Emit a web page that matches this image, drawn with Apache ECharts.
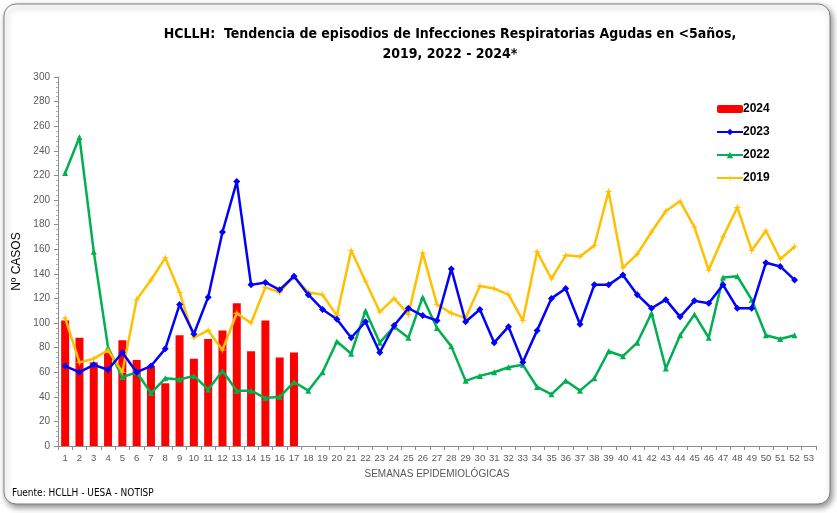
<!DOCTYPE html>
<html>
<head>
<meta charset="utf-8">
<script src="https://cdn.jsdelivr.net/npm/echarts@6/dist/echarts.min.js"></script>
<style>
  html, body { margin: 0; padding: 0; background: #ffffff; }
  #main { width: 837px; height: 513px; }
</style>
</head>
<body>
<div id="main"></div>
<script>
// semanas epidemiologicas 1..53
var semanas = [];
for (var i = 1; i <= 53; i++) semanas.push(String(i));

var casos2024 = [102, 88, 68, 76, 86, 70, 65, 51, 90, 71, 87, 94, 116, 77, 102, 72, 76];
var casos2023 = [65, 60, 66, 62, 76, 60, 65, 79, 115, 91, 121, 174, 215, 131, 133, 127, 138, 123,
  111, 103, 88, 101, 76, 98, 112, 106, 102, 144, 101, 111, 84, 97, 68, 94, 120, 128,
  99, 131, 131, 139, 123, 112, 119, 105, 118, 116, 131, 112, 112, 149, 146, 135];
var casos2022 = [222, 251, 158, 80, 56, 60, 43, 55, 54, 57, 46, 61, 45, 45, 39, 40, 52, 45,
  60, 85, 75, 110, 84, 97, 88, 121, 96, 81, 53, 57, 60, 64, 66, 48, 42, 53,
  45, 55, 77, 73, 84, 108, 63, 90, 107, 88, 137, 138, 119, 90, 87, 90];
var casos2019 = [104, 68, 71, 78, 60, 119, 135, 153, 125, 88, 94, 78, 108, 100, 129, 125, 138, 125,
  123, 106, 159, 134, 109, 120, 107, 157, 115, 108, 104, 130, 128, 123, 102, 158, 136, 155,
  154, 163, 207, 145, 156, 174, 191, 199, 178, 143, 170, 194, 159, 175, 152, 162];

var chart = echarts.init(document.getElementById('main'));

var axisGray = '#8c8c8c';
var labelGray = '#595959';
var narrowFont = '"Liberation Sans Narrow", "DejaVu Sans Condensed", sans-serif';
var starPath = 'path://M5,0 L6,4 L10,5 L6,6 L5,10 L4,6 L0,5 L4,4 Z';

var option = {
  backgroundColor: '#ffffff',
  animation: false,
  graphic: [{
    type: 'rect',
    shape: { x: 4, y: 4, width: 826, height: 500, r: 12 },
    style: {
      fill: '#ffffff',
      stroke: '#7f7f7f',
      lineWidth: 1,
      shadowBlur: 6,
      shadowOffsetX: 2,
      shadowOffsetY: 3,
      shadowColor: 'rgba(0,0,0,0.45)'
    },
    z: -10
  }, {
    type: 'text',
    left: 12,
    top: 488,
    style: {
      text: 'Fuente: HCLLH - UESA - NOTISP',
      font: '10px ' + narrowFont,
      fill: '#000000'
    }
  }],
  title: {
    text: 'HCLLH:  Tendencia de episodios de Infecciones Respiratorias Agudas en <5años,\n2019, 2022 - 2024*',
    left: 445,
    textAlign: 'center',
    top: 19,
    textStyle: {
      fontFamily: narrowFont,
      fontSize: 14,
      fontWeight: 'bold',
      color: '#000000',
      lineHeight: 20
    }
  },
  legend: {
    orient: 'vertical',
    left: 711,
    top: 98,
    itemGap: 11,
    itemWidth: 26,
    itemHeight: 8,
    textStyle: { fontFamily: 'Arial, "Liberation Sans", sans-serif', fontSize: 12, fontWeight: 'bold', color: '#000000', padding: [0, 0, 0, -5] },
    data: ['2024', '2023', '2022', '2019']
  },
  grid: { left: 58, right: 21, top: 77, bottom: 67 },
  xAxis: {
    type: 'category',
    data: semanas,
    boundaryGap: true,
    name: 'SEMANAS EPIDEMIOLÓGICAS',
    nameLocation: 'middle',
    nameGap: 23,
    nameTextStyle: { fontFamily: 'Arial, "Liberation Sans", sans-serif', fontSize: 10, color: labelGray },
    axisLine: { lineStyle: { color: axisGray } },
    axisTick: { show: true, alignWithLabel: false, length: 4, lineStyle: { color: axisGray } },
    axisLabel: { interval: 0, fontFamily: 'Arial, "Liberation Sans", sans-serif', fontSize: 9.5, color: labelGray, margin: 7 },
    splitLine: { show: false }
  },
  yAxis: {
    type: 'value',
    min: 0,
    max: 300,
    interval: 20,
    name: 'Nº CASOS',
    nameLocation: 'middle',
    nameGap: 27,
    nameTextStyle: { fontFamily: 'Arial, "Liberation Sans", sans-serif', fontSize: 12, color: '#000000' },
    axisLine: { show: true, lineStyle: { color: axisGray } },
    axisTick: { show: true, length: 4, lineStyle: { color: axisGray } },
    minorTick: { show: true, splitNumber: 5, length: 2, lineStyle: { color: '#b0b0b0' } },
    axisLabel: { fontFamily: 'Arial, "Liberation Sans", sans-serif', fontSize: 10, color: labelGray, margin: 8 },
    splitLine: { show: false }
  },
  series: [{
    name: '2024',
    type: 'bar',
    data: casos2024,
    barWidth: 8,
    itemStyle: { color: '#ff0000' },
    z: 1
  }, {
    name: '2023',
    type: 'line',
    data: casos2023,
    symbol: 'diamond',
    symbolSize: 7,
    lineStyle: { color: '#0000ff', width: 2.5 },
    itemStyle: { color: '#0000ff' },
    z: 3
  }, {
    name: '2022',
    type: 'line',
    data: casos2022,
    symbol: 'triangle',
    symbolSize: 6,
    lineStyle: { color: '#00b050', width: 2.5 },
    itemStyle: { color: '#00b050' },
    z: 2
  }, {
    name: '2019',
    type: 'line',
    data: casos2019,
    symbol: starPath,
    symbolSize: 8,
    lineStyle: { color: '#ffc000', width: 2.5 },
    itemStyle: { color: '#ffc000' },
    z: 2
  }]
};

chart.setOption(option);
</script>
</body>
</html>
